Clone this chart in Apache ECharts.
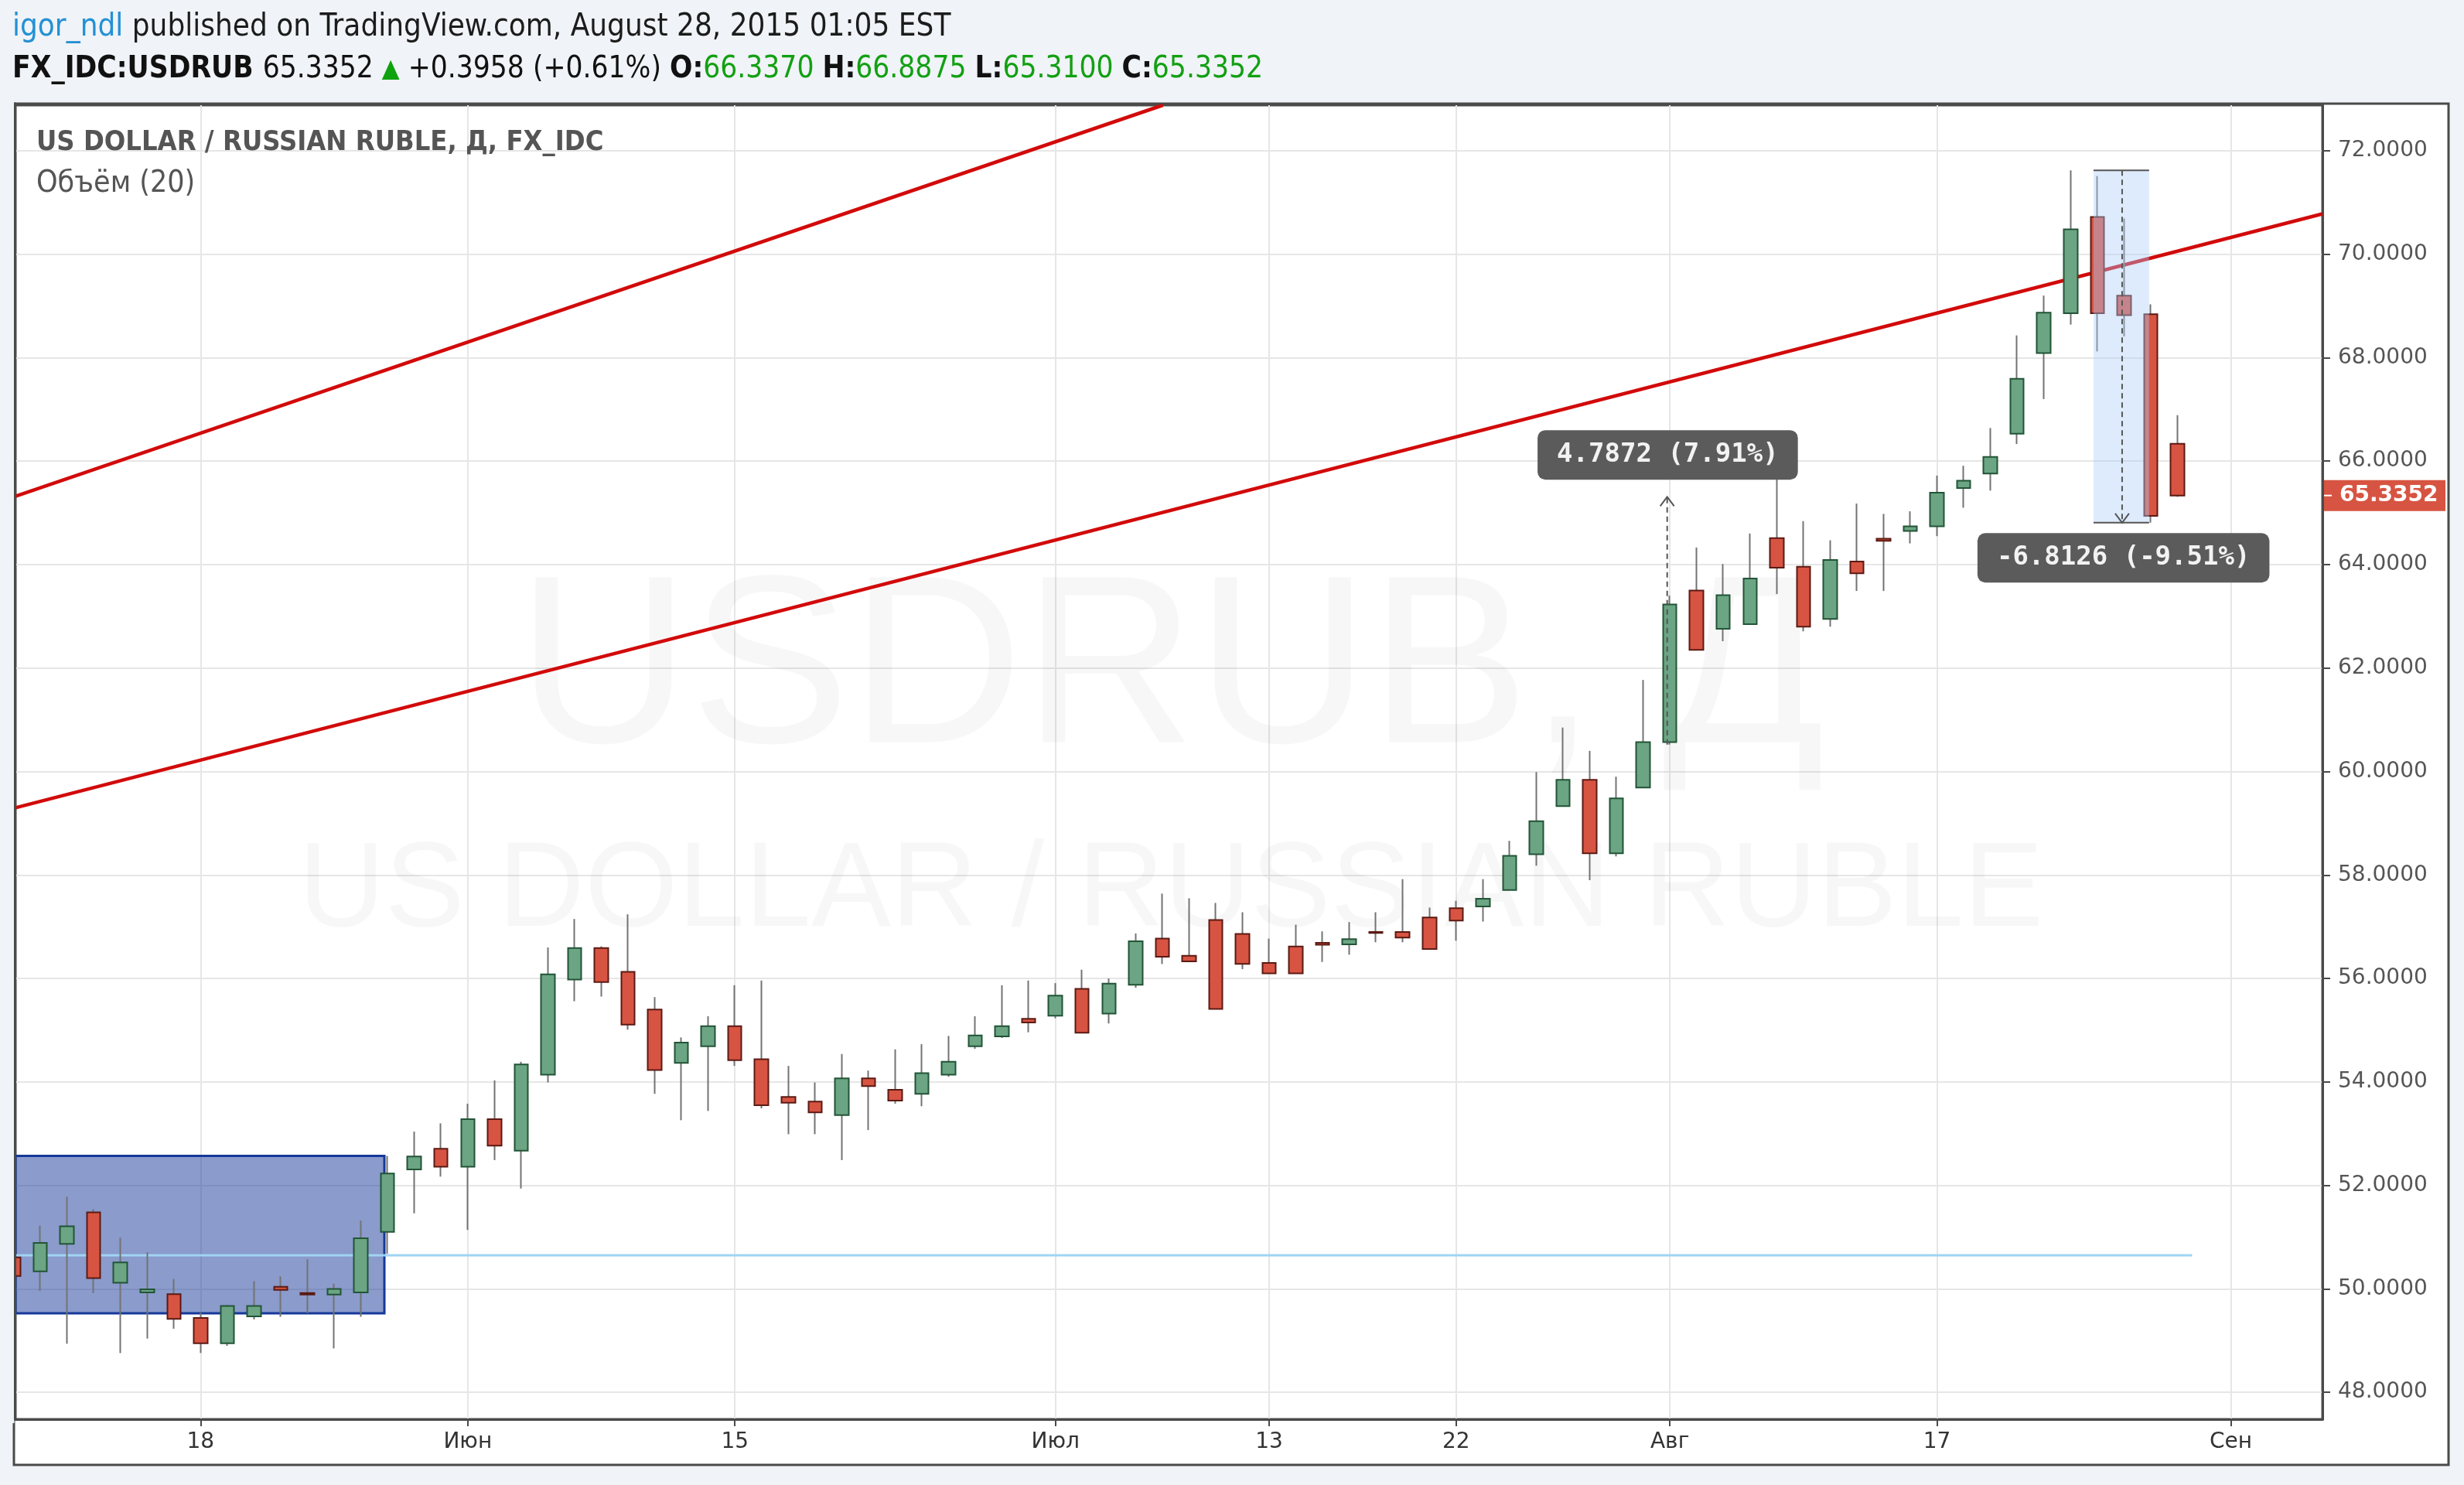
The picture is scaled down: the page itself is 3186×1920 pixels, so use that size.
<!DOCTYPE html>
<html><head><meta charset="utf-8">
<script src="https://cdn.jsdelivr.net/npm/echarts@6/dist/echarts.min.js"></script>
<style>html,body{margin:0;padding:0;background:#f0f3f7;}#c{width:3186px;height:1920px;}</style>
</head><body><div id="c"></div>
<script>
// ---------- DATA ----------
const tradingDays = [
 '2015-05-07','2015-05-08','2015-05-11','2015-05-12','2015-05-13','2015-05-14','2015-05-15',
 '2015-05-18','2015-05-19','2015-05-20','2015-05-21','2015-05-22','2015-05-25','2015-05-26',
 '2015-05-27','2015-05-28','2015-05-29',
 '2015-06-01','2015-06-02','2015-06-03','2015-06-04','2015-06-05','2015-06-08','2015-06-09',
 '2015-06-10','2015-06-11','2015-06-12','2015-06-15','2015-06-16','2015-06-17','2015-06-18',
 '2015-06-19','2015-06-22','2015-06-23','2015-06-24','2015-06-25','2015-06-26','2015-06-29','2015-06-30',
 '2015-07-01','2015-07-02','2015-07-03','2015-07-06','2015-07-07','2015-07-08','2015-07-09',
 '2015-07-10','2015-07-13','2015-07-14','2015-07-15','2015-07-16','2015-07-17','2015-07-20',
 '2015-07-21','2015-07-22','2015-07-23','2015-07-24','2015-07-27','2015-07-28','2015-07-29',
 '2015-07-30','2015-07-31',
 '2015-08-03','2015-08-04','2015-08-05','2015-08-06','2015-08-07','2015-08-10','2015-08-11',
 '2015-08-12','2015-08-13','2015-08-14','2015-08-17','2015-08-18','2015-08-19','2015-08-20',
 '2015-08-21','2015-08-24','2015-08-25','2015-08-26','2015-08-27','2015-08-28',
 '2015-08-31','2015-09-01','2015-09-02','2015-09-03','2015-09-04'
];
const candleOpen = [
 50.61,50.34,50.87,51.48,50.12,49.93,49.90,49.44,48.95,49.47,50.04,49.92,49.89,49.93,51.10,52.31,52.71,
 52.36,53.28,52.67,54.14,55.98,56.59,56.13,55.40,54.37,54.69,55.08,54.44,53.71,53.62,53.36,54.07,53.85,53.77,54.14,54.69,54.88,55.22,
 55.28,55.80,55.32,55.88,56.77,56.44,57.13,56.86,56.30,56.62,56.69,56.66,56.90,56.90,57.18,57.36,57.39,57.71,58.40,59.33,59.84,58.42,59.69,
 60.57,63.50,62.76,62.85,64.51,63.96,62.95,64.06,64.50,64.65,64.74,65.48,65.76,66.53,68.09,68.86,70.72,69.20,68.84,66.337
];
const candleClose = [
 50.25,50.89,51.21,50.21,50.51,49.99,49.42,48.95,49.67,49.67,49.98,49.89,50.00,50.98,52.23,52.56,52.36,
 53.28,52.77,54.34,56.08,56.59,55.93,55.11,54.23,54.76,55.08,54.42,53.55,53.60,53.41,54.07,53.92,53.64,54.17,54.39,54.90,55.08,55.15,
 55.67,54.95,55.90,56.72,56.42,56.33,55.41,56.28,56.10,56.10,56.65,56.76,56.88,56.79,56.57,57.12,57.54,58.37,59.04,59.84,58.42,59.48,60.57,
 63.23,62.35,63.41,63.73,63.94,62.80,64.09,63.83,64.46,64.74,65.39,65.62,66.08,67.59,68.87,70.48,68.86,68.82,64.94,65.3352
];
const candleLow = [
 50.18,49.96,48.94,49.92,48.76,49.04,49.23,48.76,48.90,49.41,49.46,49.53,48.85,49.46,50.68,51.46,52.17,
 51.14,52.49,51.94,53.99,55.56,55.65,55.01,53.77,53.26,53.44,54.31,53.49,52.99,52.99,52.49,53.07,53.58,53.53,54.10,54.64,54.85,54.96,
 55.23,54.95,55.13,55.82,56.28,56.33,55.41,56.18,56.10,56.10,56.32,56.46,56.70,56.70,56.57,56.73,57.10,57.71,58.18,59.33,57.90,58.36,59.69,
 60.52,62.35,62.52,62.85,63.43,62.71,62.80,63.49,63.49,64.41,64.55,65.10,65.43,66.33,67.20,68.64,68.12,68.41,64.81,65.31
];
const candleHigh = [
 50.70,51.22,51.78,51.54,50.99,50.71,50.19,49.54,49.69,50.15,50.24,50.57,50.10,51.32,52.57,53.04,53.20,
 53.58,54.03,54.39,56.60,57.15,56.62,57.24,55.64,54.86,55.27,55.87,55.96,54.31,53.99,54.54,54.22,54.63,54.73,54.89,55.27,55.87,55.96,
 55.91,56.17,56.00,56.87,57.64,57.55,57.46,57.28,56.77,57.04,56.91,57.09,57.28,57.92,57.37,57.50,57.92,58.66,59.99,60.85,60.40,59.90,61.77,
 63.40,64.33,64.01,64.60,65.70,64.84,64.47,65.18,64.98,65.03,65.72,65.91,66.64,68.43,69.20,71.62,71.51,70.69,69.03,66.8875
];
const xTickDays = ['2015-05-18','2015-06-01','2015-06-15','2015-07-01','2015-07-13','2015-07-22','2015-08-03','2015-08-17','2015-09-01'];
const xTickLabels = ['18','Июн','15','Июл','13','22','Авг','17','Сен'];
const yTicks = [48,50,52,54,56,58,60,62,64,66,68,70,72];
const xRange = [0.07, 86.43];      // in trading-day index units
const yRange = [47.48, 72.88];
const lastPrice = 65.3352;
// drawings (data coordinates: [dayIndex, price])
const trendUpper = [[0.07, 65.32], [43.02, 72.88]];
const trendLower = [[0.07, 59.30], [86.43, 70.78]];
const volumeLine = [[0.07, 50.65], [81.55, 50.65]];
const blueBox = [[0.07, 52.57, 13.88, 49.53]];
const rangeBox = [[77.86, 71.62, 79.94, 64.81]];
const measures = [
  [61.9, 60.52, 65.31, 61.92, 66.12, '4.7872 (7.91%)'],
  [78.93, 71.62, 64.81, 78.98, 64.13, '-6.8126 (-9.51%)']
];

// ---------- BUILD ----------
const idxOf = d => tradingDays.indexOf(d);
const tickIdx = xTickDays.map(idxOf);
const wickData = candleOpen.map((o, i) => [i, o, candleClose[i], candleLow[i], candleHigh[i]]);
const bodyData = candleOpen.map((o, i) => [i, o, candleClose[i], Math.min(o, candleClose[i]), Math.max(o, candleClose[i])]);

const GREEN = '#6ba583', GREEN_B = '#225437', RED = '#d75442', RED_B = '#5b1a13', WICK = '#737373';
const FRAME = '#4a4a4a', GRIDC = '#e6e6e6', PAGE = '#f0f3f7';
const narrow = '"Liberation Sans Narrow","DejaVu Sans Condensed","Open Sans",sans-serif';

const chart = echarts.init(document.getElementById('c'), null, {renderer: 'canvas'});
chart.setOption({
  animation: false,
  backgroundColor: PAGE,
  grid: {left: 20, top: 136, width: 2983, height: 1699, show: true, backgroundColor: '#ffffff',
         borderColor: FRAME, borderWidth: 3, containLabel: false},
  xAxis: {
    type: 'value', min: xRange[0], max: xRange[1],
    axisLine: {show: true, onZero: false, lineStyle: {color: FRAME, width: 3}},
    axisTick: {show: true, customValues: tickIdx, length: 9, lineStyle: {color: FRAME, width: 2}},
    axisLabel: {show: true, customValues: tickIdx, margin: 16, color: '#333', fontSize: 28,
      fontFamily: 'DejaVu Sans', formatter: v => xTickLabels[tickIdx.indexOf(Math.round(v))] || ''},
    splitLine: {show: true, lineStyle: {color: GRIDC, width: 2}}
  },
  yAxis: {
    type: 'value', position: 'right', min: yRange[0], max: yRange[1], scale: true,
    axisLine: {show: true, onZero: false, lineStyle: {color: FRAME, width: 3}},
    axisTick: {show: true, customValues: yTicks, length: 10, lineStyle: {color: FRAME, width: 2}},
    axisLabel: {show: true, customValues: yTicks, margin: 20, color: '#555', fontSize: 28,
      fontFamily: 'DejaVu Sans', formatter: v => Number(v).toFixed(4)},
    splitLine: {show: true, lineStyle: {color: GRIDC, width: 2}}
  },
  graphic: [
    {type: 'rect', z: -100, silent: true, shape: {x: 18, y: 134, width: 3148, height: 1760},
     style: {fill: '#ffffff', stroke: FRAME, lineWidth: 3}},
    {type: 'text', z: 1, silent: true, x: 1514, y: 874,
     style: {text: 'USDRUB, Д', font: '310px "Liberation Sans"', fill: 'rgba(0,0,0,0.03)', align: 'center', verticalAlign: 'middle'}},
    {type: 'text', z: 1, silent: true, x: 1514, y: 1154,
     style: {text: 'US DOLLAR / RUSSIAN RUBLE', font: '155px "Liberation Sans"', fill: 'rgba(0,0,0,0.03)', align: 'center', verticalAlign: 'middle'}},
    // left edge mask so the partially visible first candle is cut at the plot border
    {type: 'rect', z: 50, silent: true, shape: {x: 0, y: 130, width: 18.5, height: 1710}, style: {fill: PAGE}},
    {type: 'line', z: 51, silent: true, shape: {x1: 19.5, y1: 132.5, x2: 19.5, y2: 1836.5}, style: {stroke: FRAME, lineWidth: 3}},
    {type: 'text', z: 100, x: 16, y: 36, style: {
      text: '{a|igor_ndl}{b| published on TradingView.com, August 28, 2015 01:05 EST}',
      verticalAlign: 'middle', rich: {
        a: {fill: '#2491d4', font: '40px ' + narrow},
        b: {fill: '#1c1c1c', font: '40px ' + narrow}}}},
    {type: 'text', z: 100, x: 16, y: 90, style: {
      text: '{k|FX_IDC:USDRUB }{n|65.3352 }{t|▲}{n| +0.3958 (+0.61%) }{k|O:}{g|66.3370 }{k|H:}{g|66.8875 }{k|L:}{g|65.3100 }{k|C:}{g|65.3352}',
      verticalAlign: 'middle', rich: {
        k: {fill: '#111', font: 'bold 38.5px ' + narrow},
        n: {fill: '#111', font: '38.5px ' + narrow},
        t: {fill: '#0ea20e', font: '33px ' + narrow},
        g: {fill: '#12a012', font: '38.5px ' + narrow}}}},
    {type: 'text', z: 100, x: 47, y: 185, style: {text: 'US DOLLAR / RUSSIAN RUBLE, Д, FX_IDC',
      font: 'bold 36px ' + narrow, fill: '#555', verticalAlign: 'middle'}},
    {type: 'text', z: 100, x: 47, y: 238, style: {text: 'Объём (20)',
      font: '39px ' + narrow, fill: '#555', verticalAlign: 'middle'}}
  ],
  series: [
    {type: 'custom', z: 2, data: blueBox, clip: true,
     renderItem: (p, api) => {
       const a = api.coord([api.value(0), api.value(1)]), b = api.coord([api.value(2), api.value(3)]);
       return {type: 'rect', shape: {x: a[0], y: a[1], width: b[0] - a[0], height: b[1] - a[1]},
               style: {fill: 'rgba(21,56,153,0.5)', stroke: 'rgb(21,56,153)', lineWidth: 3}};
     }},
    {type: 'line', z: 3, data: volumeLine, showSymbol: false, symbol: 'none',
     lineStyle: {color: '#a0d4f3', width: 3}},
    {type: 'line', z: 3, data: trendUpper, showSymbol: false, symbol: 'none', clip: true,
     lineStyle: {color: '#d20a0a', width: 4.5}},
    {type: 'line', z: 3, data: trendLower, showSymbol: false, symbol: 'none', clip: true,
     lineStyle: {color: '#d20a0a', width: 4.5}},
    {type: 'candlestick', z: 4, barWidth: 1, data: wickData,
     dimensions: ['idx', 'open', 'close', 'lowest', 'highest'],
     encode: {x: 'idx', y: ['open', 'close', 'lowest', 'highest']},
     itemStyle: {color: WICK, color0: WICK, borderColor: WICK, borderColor0: WICK, borderColorDoji: WICK, borderWidth: 2}},
    {type: 'candlestick', z: 5, barWidth: 18, data: bodyData,
     dimensions: ['idx', 'open', 'close', 'lowest', 'highest'],
     encode: {x: 'idx', y: ['open', 'close', 'lowest', 'highest']},
     itemStyle: {color: GREEN, color0: RED, borderColor: GREEN_B, borderColor0: RED_B, borderColorDoji: RED_B, borderWidth: 2}},
    {type: 'custom', z: 6, data: rangeBox,
     renderItem: (p, api) => {
       const a = api.coord([api.value(0), api.value(1)]), b = api.coord([api.value(2), api.value(3)]);
       return {type: 'group', children: [
         {type: 'rect', shape: {x: a[0], y: a[1], width: b[0] - a[0], height: b[1] - a[1]},
          style: {fill: 'rgba(170,205,250,0.4)'}},
         {type: 'line', shape: {x1: a[0], y1: a[1], x2: b[0], y2: a[1]}, style: {stroke: '#555', lineWidth: 2}},
         {type: 'line', shape: {x1: a[0], y1: b[1], x2: b[0], y2: b[1]}, style: {stroke: '#555', lineWidth: 2}}
       ]};
     }},
    {type: 'custom', z: 7, data: measures,
     renderItem: (p, api) => {
       const x = api.value(0), y0 = api.value(1), y1 = api.value(2);
       const s = api.coord([x, y0]), e = api.coord([x, y1]);
       const dir = e[1] < s[1] ? 1 : -1;
       const lb = api.coord([api.value(3), api.value(4)]);
       const txt = measures[p.dataIndex][5];
       return {type: 'group', children: [
         {type: 'line', shape: {x1: s[0], y1: s[1], x2: e[0], y2: e[1]},
          style: {stroke: '#555', lineWidth: 2, lineDash: [7, 5]}},
         {type: 'polyline', shape: {points: [[e[0] - 9, e[1] + dir * 12], [e[0], e[1]], [e[0] + 9, e[1] + dir * 12]]},
          style: {stroke: '#555', lineWidth: 2, fill: null}},
         {type: 'text', x: lb[0], y: lb[1], style: {text: txt, fill: '#f2f2f2',
          font: 'bold 34px "DejaVu Sans Mono", monospace', align: 'center', verticalAlign: 'middle',
          backgroundColor: '#5b5b5b', borderRadius: 10, padding: [15, 25, 15, 25]}}
       ]};
     }},
    {type: 'custom', z: 8, data: [[xRange[1], lastPrice]],
     renderItem: (p, api) => {
       const c = api.coord([api.value(0), api.value(1)]);
       return {type: 'group', children: [
         {type: 'rect', shape: {x: c[0] + 2, y: c[1] - 20, width: 157, height: 40}, style: {fill: '#d75442'}},
         {type: 'line', shape: {x1: c[0] + 2, y1: c[1], x2: c[0] + 12, y2: c[1]}, style: {stroke: '#fff', lineWidth: 2}},
         {type: 'text', x: c[0] + 22, y: c[1], style: {text: lastPrice.toFixed(4), fill: '#fff',
          font: 'bold 28px "DejaVu Sans"', align: 'left', verticalAlign: 'middle'}}
       ]};
     }}
  ]
});
</script></body></html>
